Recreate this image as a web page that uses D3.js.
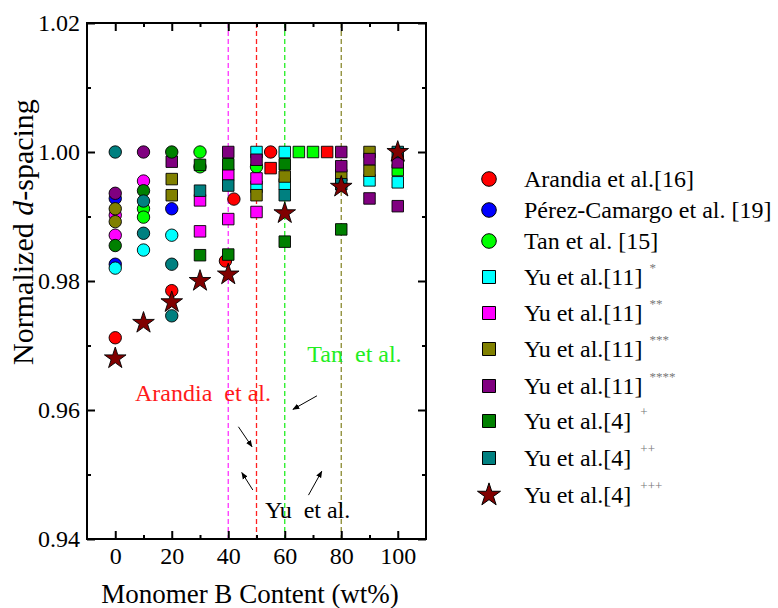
<!DOCTYPE html>
<html>
<head>
<meta charset="utf-8">
<script src="https://cdn.jsdelivr.net/npm/d3@7"></script>
<style>
  html, body { margin: 0; padding: 0; background: #fff; }
  svg { display: block; }
  svg text { font-family: "Liberation Serif", "DejaVu Serif", serif !important; }
</style>
</head>
<body>
<svg id="chart" width="778" height="608"></svg>
<script>
// ---------- data ----------
const xTicks = [0, 20, 40, 60, 80, 100];
const xMinorTicks = [10, 30, 50, 70, 90];
const yTicks = [0.94, 0.96, 0.98, 1.00, 1.02];
const yMinorTicks = [0.95, 0.97, 0.99, 1.01];
const yTickLabels = ["0.94", "0.96", "0.98", "1.00", "1.02"];

const arandiaX = [0, 20, 39, 42, 55];
const arandiaY = [0.9712, 0.9785, 0.9831, 0.9927, 1.000];
const arandiaSqX = [55, 75];
const arandiaSqY = [0.9975, 1.000];

const perezX = [0, 0, 20];
const perezY = [0.9928, 0.9826, 0.9912];

const tanX = [10, 10, 30, 30, 50];
const tanY = [0.9912, 0.9899, 1.000, 0.9977, 0.9977];
const tanSqX = [65, 70, 100];
const tanSqY = [1.000, 1.000, 0.9972];

const yu11aCircX = [0, 10, 20];
const yu11aCircY = [0.9820, 0.9848, 0.9871];
const yu11aSqX = [50, 50, 60, 60, 90, 100];
const yu11aSqY = [1.000, 0.9946, 1.000, 0.9950, 0.9956, 0.9953];

const yu11bCircX = [0, 0, 10];
const yu11bCircY = [0.9902, 0.9871, 0.9955];
const yu11bSqX = [30, 30, 40, 40, 50, 50];
const yu11bSqY = [0.9925, 0.9877, 0.9965, 0.9896, 0.9959, 0.9907];

const yu11cCircX = [0, 0];
const yu11cCircY = [0.9912, 0.9892];
const yu11cSqX = [20, 20, 50, 60, 80, 90, 90];
const yu11cSqY = [0.9958, 0.9933, 0.9933, 0.9962, 0.9964, 1.000, 0.9971];

const yu11dCircX = [0, 10];
const yu11dCircY = [0.9936, 1.000];
const yu11dSqX = [20, 40, 50, 80, 80, 90, 90, 100, 100];
const yu11dSqY = [0.9985, 1.000, 0.9988, 1.000, 0.9978, 0.9989, 0.9928, 0.9984, 0.9916];

const yu4aCircX = [0, 10, 20];
const yu4aCircY = [0.9855, 0.9940, 1.000];
const yu4aSqX = [30, 30, 40, 40, 60, 60, 80];
const yu4aSqY = [0.9980, 0.9840, 0.9981, 0.9841, 0.9981, 0.9861, 0.9880];

const yu4bCircX = [0, 10, 10, 20, 20];
const yu4bCircY = [1.000, 0.9924, 0.9874, 0.9826, 0.9746];
const yu4bSqX = [30, 40, 60, 80, 100];
const yu4bSqY = [0.9940, 0.9948, 0.9933, 0.9950, 1.000];

const yu4cX = [0, 10, 20, 30, 40, 60, 80, 100];
const yu4cY = [0.9680, 0.9735, 0.9767, 0.9800, 0.9810, 0.9905, 0.9946, 1.000];

const refLineX = [40, 50, 60, 80];
const refLineColors = ["#ff33ff", "#ff2020", "#22ee22", "#8a8a30"];

const legendLabels = ["Arandia et al.[16]", "Pérez-Camargo et al. [19]", "Tan et al. [15]",
  "Yu et al.[11]", "Yu et al.[11]", "Yu et al.[11]", "Yu et al.[11]",
  "Yu et al.[4]", "Yu et al.[4]", "Yu et al.[4]"];
const legendSup = ["", "", "", "*", "**", "***", "****", "+", "++", "+++"];

// annotation texts (data coordinates)
const annoText = ["Arandia  et al.", "Tan  et al.", "Yu  et al."];
const annoX = [7, 68, 53];
const annoY = [0.9614, 0.9675, 0.9433];
const annoColor = ["#ff1a1a", "#22ee22", "#000000"];
// arrows: [x1, y1, x2, y2] in data coordinates
const arrows = [
  [71.4, 0.9622, 62.9, 0.9601],
  [43.6, 0.9574, 48.4, 0.9543],
  [48.7, 0.9476, 44.8, 0.9503],
  [68.4, 0.9468, 73.1, 0.9505]
];

// ---------- setup ----------
const svg = d3.select("#chart");
const L = 87, R = 426, T = 23, B = 539;
const x = d3.scaleLinear().domain([-10, 110]).range([L, R]);
const y = d3.scaleLinear().domain([0.94, 1.02]).range([B, T]);
const zip = (xs, ys) => xs.map((v, i) => [v, ys[i]]);

// reference dashed lines
const gLines = svg.append("g");
refLineX.forEach((v, i) => {
  gLines.append("line")
    .attr("x1", x(v)).attr("x2", x(v)).attr("y1", y(1.02)).attr("y2", y(0.94))
    .attr("stroke", refLineColors[i]).attr("stroke-width", 1.3)
    .attr("stroke-dasharray", "5,3");
});

// series definitions
const series = [
  { pts: zip(arandiaX, arandiaY), shape: "circle", fill: "#ff0000" },
  { pts: zip(arandiaSqX, arandiaSqY), shape: "square", fill: "#ff0000" },
  { pts: zip(perezX, perezY), shape: "circle", fill: "#0000ff" },
  { pts: zip(tanX, tanY), shape: "circle", fill: "#00ff00" },
  { pts: zip(tanSqX, tanSqY), shape: "square", fill: "#00ff00" },
  { pts: zip(yu11aCircX, yu11aCircY), shape: "circle", fill: "#00ffff" },
  { pts: zip(yu11aSqX, yu11aSqY), shape: "square", fill: "#00ffff" },
  { pts: zip(yu11bCircX, yu11bCircY), shape: "circle", fill: "#ff00ff" },
  { pts: zip(yu11bSqX, yu11bSqY), shape: "square", fill: "#ff00ff" },
  { pts: zip(yu11cCircX, yu11cCircY), shape: "circle", fill: "#808000" },
  { pts: zip(yu11cSqX, yu11cSqY), shape: "square", fill: "#808000" },
  { pts: zip(yu11dCircX, yu11dCircY), shape: "circle", fill: "#800080" },
  { pts: zip(yu11dSqX, yu11dSqY), shape: "square", fill: "#800080" },
  { pts: zip(yu4aCircX, yu4aCircY), shape: "circle", fill: "#008000" },
  { pts: zip(yu4aSqX, yu4aSqY), shape: "square", fill: "#008000" },
  { pts: zip(yu4bCircX, yu4bCircY), shape: "circle", fill: "#008080" },
  { pts: zip(yu4bSqX, yu4bSqY), shape: "square", fill: "#008080" },
  { pts: zip(yu4cX, yu4cY), shape: "star", fill: "#800000" }
];

const symCircle = d3.symbol().type(d3.symbolCircle).size(Math.PI * 6.2 * 6.2);
const symSquare = d3.symbol().type(d3.symbolSquare).size(11.5 * 11.5);
const symStar = d3.symbol().type(d3.symbolStar).size(145);
const symFor = s => s === "circle" ? symCircle : s === "square" ? symSquare : symStar;

const gPts = svg.append("g");
series.forEach(s => {
  gPts.append("g").selectAll("path").data(s.pts).join("path")
    .attr("transform", d => `translate(${x(d[0])},${y(d[1])})`)
    .attr("d", symFor(s.shape)())
    .attr("fill", s.fill).attr("stroke", "#000").attr("stroke-width", 0.9);
});

// annotations
annoText.forEach((t, i) => {
  svg.append("text").attr("x", x(annoX[i])).attr("y", y(annoY[i]))
    .attr("fill", annoColor[i]).attr("font-size", 24)
    .style("white-space", "pre").attr("xml:space", "preserve").text(t);
});
svg.append("defs").append("marker").attr("id", "ah")
  .attr("viewBox", "0 0 10 10").attr("refX", 9).attr("refY", 5)
  .attr("markerWidth", 7).attr("markerHeight", 7).attr("orient", "auto")
  .append("path").attr("d", "M0,1 L10,5 L0,9 z").attr("fill", "#000");
arrows.forEach(a => {
  svg.append("line").attr("x1", x(a[0])).attr("y1", y(a[1]))
    .attr("x2", x(a[2])).attr("y2", y(a[3]))
    .attr("stroke", "#000").attr("stroke-width", 1).attr("marker-end", "url(#ah)");
});

// axes
const fmtY = (d) => yTickLabels[yTicks.indexOf(d)] ?? d3.format(".2f")(d);
const gxB = svg.append("g").attr("transform", `translate(0,${B})`)
  .call(d3.axisBottom(x).tickValues(xTicks).tickSize(-8).tickPadding(8));
const gxBm = svg.append("g").attr("transform", `translate(0,${B})`)
  .call(d3.axisBottom(x).tickValues(xMinorTicks).tickSize(-4).tickFormat(""));
const gxT = svg.append("g").attr("transform", `translate(0,${T})`)
  .call(d3.axisTop(x).tickValues(xTicks).tickSize(-8).tickFormat(""));
const gxTm = svg.append("g").attr("transform", `translate(0,${T})`)
  .call(d3.axisTop(x).tickValues(xMinorTicks).tickSize(-4).tickFormat(""));
const gyL = svg.append("g").attr("transform", `translate(${L},0)`)
  .call(d3.axisLeft(y).tickValues(yTicks).tickSize(-8).tickPadding(7).tickFormat(fmtY));
const gyLm = svg.append("g").attr("transform", `translate(${L},0)`)
  .call(d3.axisLeft(y).tickValues(yMinorTicks).tickSize(-4).tickFormat(""));
const gyR = svg.append("g").attr("transform", `translate(${R},0)`)
  .call(d3.axisRight(y).tickValues(yTicks).tickSize(-8).tickFormat(""));
const gyRm = svg.append("g").attr("transform", `translate(${R},0)`)
  .call(d3.axisRight(y).tickValues(yMinorTicks).tickSize(-4).tickFormat(""));
[gxB, gxBm, gxT, gxTm, gyL, gyLm, gyR, gyRm].forEach(g => {
  g.attr("font-family", null);
  g.select(".domain").remove();
  g.selectAll(".tick line").attr("stroke", "#000").attr("stroke-width", 2);
  g.selectAll("text").attr("font-size", 24).attr("fill", "#000");
});
svg.append("rect").attr("x", L).attr("y", T).attr("width", R - L).attr("height", B - T)
  .attr("fill", "none").attr("stroke", "#000").attr("stroke-width", 2);

// axis titles
svg.append("text").attr("x", 250).attr("y", 603).attr("text-anchor", "middle")
  .attr("font-size", 27).text("Monomer B Content (wt%)");
const yt = svg.append("text").attr("transform", `translate(33,232) rotate(-90)`)
  .attr("text-anchor", "middle").attr("font-size", 30);
yt.append("tspan").text("Normalized ");
yt.append("tspan").attr("font-style", "italic").text("d");
yt.append("tspan").text("-spacing");

// legend
const legendFills = ["#ff0000", "#0000ff", "#00ff00", "#00ffff", "#ff00ff", "#808000", "#800080", "#008000", "#008080", "#800000"];
const legendShapes = ["circle", "circle", "circle", "square", "square", "square", "square", "square", "square", "star"];
const legendRowY = [179, 210, 241, 277, 313, 349, 386, 421, 458, 495];
const lgSym = {
  circle: d3.symbol().type(d3.symbolCircle).size(Math.PI * 7.3 * 7.3),
  square: d3.symbol().type(d3.symbolSquare).size(13 * 13),
  star: d3.symbol().type(d3.symbolStar).size(165)
};
const gLeg = svg.append("g");
legendLabels.forEach((lab, i) => {
  const cy = legendRowY[i];
  gLeg.append("path").attr("transform", `translate(489,${cy})`)
    .attr("d", lgSym[legendShapes[i]]()).attr("fill", legendFills[i])
    .attr("stroke", "#000").attr("stroke-width", 1);
  const t = gLeg.append("text").attr("x", 524).attr("y", cy + 8).attr("font-size", 24).text(lab);
  if (legendSup[i]) {
    t.append("tspan").attr("dx", legendSup[i].startsWith("+") ? 9 : 7).attr("dy", -13)
      .attr("font-size", 13).attr("fill", "#777").text(legendSup[i]);
  }
});
</script>
</body>
</html>
